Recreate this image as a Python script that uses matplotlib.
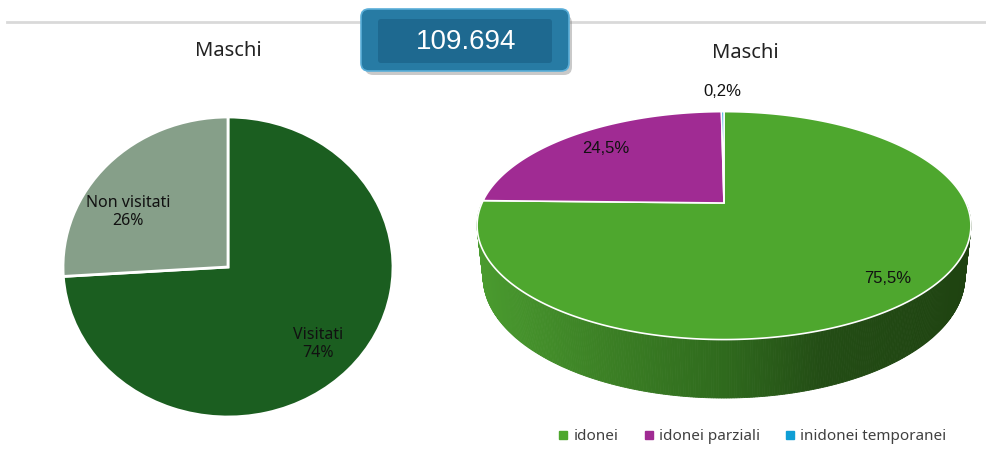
import numpy as np
import matplotlib
matplotlib.use("Agg")
import matplotlib.pyplot as plt
from matplotlib.patches import Polygon, FancyBboxPatch
from matplotlib.lines import Line2D
from matplotlib.colors import to_rgb

# data
left_labels = ["Visitati", "Non visitati"]
left_values = [74, 26]
left_colors = ["#1B5E20", "#869F89"]

right_labels = ["idonei", "idonei parziali", "inidonei temporanei"]
right_values = [75.5, 24.5, 0.2]
right_texts = ["75,5%", "24,5%", "0,2%"]
right_colors = ["#4EA72E", "#A02B93", "#0F9ED5"]

total_text = "109.694"
title = "Maschi"

W, H = 987, 458
fig = plt.figure(figsize=(W / 100, H / 100), dpi=100)
fig.patch.set_facecolor("white")

# overlay axes in pixel coordinates
ov = fig.add_axes([0, 0, 1, 1])
ov.set_xlim(0, W)
ov.set_ylim(H, 0)
ov.axis("off")

# top rule
ov.plot([7, W], [22, 22], color="#d9d9d9", lw=2, zorder=1)

# ---- left pie (flat, slightly stretched) ----
cx, cy, rx, ry = 228, 267, 165, 150
pad = 1.05
axl = fig.add_axes([(cx - rx * pad) / W, (H - cy - ry * pad) / H,
                    2 * rx * pad / W, 2 * ry * pad / H])
wedges, _ = axl.pie(left_values, colors=left_colors, startangle=90,
                    counterclock=False,
                    wedgeprops=dict(edgecolor="white", linewidth=2))
axl.set_aspect("auto")
axl.set_xlim(-pad, pad)
axl.set_ylim(-pad, pad)
axl.axis("off")
# best-fit style nudges (angle shift in degrees, radius)
nudges = [(0, 0.75), (12, 0.71)]
for w, lab, v, (da, r) in zip(wedges, left_labels, left_values, nudges):
    mid = np.deg2rad((w.theta1 + w.theta2) / 2 + da)
    axl.text(r * np.cos(mid), r * np.sin(mid), f"{lab}\n{v}%",
             ha="center", va="center", fontsize=11.5, color="#111111",
             family="Noto Sans", linespacing=1.2)

ov.text(cx, 51, title, ha="center", va="center", fontsize=14.5,
        color="#222222", family="Noto Sans")

# ---- right pie (3D, perspective) ----
alpha = np.deg2rad(26.9)
S, C = np.sin(alpha), np.cos(alpha)
D, K = 4.5, 1089
PX, PY = 724, 203
DEPTH = 0.239


def proj(theta, r=1.0, z=0.0):
    x = r * np.cos(theta)
    y = r * np.sin(theta)
    v = y * S + z * C
    w = D + y * C - z * S
    return PX + K * x / w, PY - K * v / w


# side wall with horizontal shading
stops = [(0.0, "#4A9B2F"), (0.25, "#3C8125"), (0.5, "#2F6A1D"),
         (0.7, "#234D15"), (1.0, "#1F4311")]
sx = [s[0] for s in stops]
srgb = np.array([to_rgb(s[1]) for s in stops])


def shade(t):
    return tuple(np.interp(t, sx, srgb[:, k]) for k in range(3))


th = np.deg2rad(np.linspace(180, 360, 361))
x_left = PX - 247
x_right = PX + 247
for i in range(len(th) - 1):
    a, b = th[i], th[i + 1]
    p = [proj(a), proj(b), proj(b, z=-DEPTH), proj(a, z=-DEPTH)]
    xm = (p[0][0] + p[1][0]) / 2
    t = (xm - x_left) / (x_right - x_left)
    col = shade(np.clip(t, 0, 1))
    ov.add_patch(Polygon(p, closed=True, facecolor=col, edgecolor=col,
                         lw=0.6, zorder=2))

# top face wedges, clockwise from 12 o'clock
fr = np.array(right_values) / sum(right_values)
start = np.pi / 2
mids = []
for f, col in zip(fr, right_colors):
    end = start - f * 2 * np.pi
    ts = np.linspace(start, end, max(3, int(f * 720)))
    pts = [proj(0, r=0)] + [proj(t) for t in ts]
    ov.add_patch(Polygon(pts, closed=True, facecolor=col, edgecolor="white",
                         lw=1.2, zorder=3, joinstyle="miter"))
    mids.append((start + end) / 2)
    start = end

label_r = [0.85, 0.77, 1.27]
for m, r, txt in zip(mids, label_r, right_texts):
    x, y = proj(m, r=r)
    ov.text(x, y, txt, ha="center", va="center", fontsize=12,
            color="#111111", family="Liberation Sans", zorder=5)

ov.text(745, 53, title, ha="center", va="center", fontsize=14.5,
        color="#222222", family="Noto Sans")

# legend
handles = [Line2D([], [], marker="s", ls="", color=c, markersize=5.5)
           for c in right_colors]
fig.legend(handles, right_labels, loc="center", ncol=3, frameon=False,
           bbox_to_anchor=(751 / W, 1 - 437 / H),
           handletextpad=0.15, columnspacing=1.5, handlelength=1.0,
           labelcolor="#404040", prop=dict(family="Noto Sans", size=11))

# value box
ov.add_patch(FancyBboxPatch((365, 15), 207, 60,
                            boxstyle="round,pad=0,rounding_size=8",
                            facecolor="#7a7a7a", edgecolor="none",
                            alpha=0.4, zorder=6))
ov.add_patch(FancyBboxPatch((361, 9), 208, 62,
                            boxstyle="round,pad=0,rounding_size=8",
                            facecolor="#277BA4", edgecolor="#5AAED8",
                            lw=1.2, zorder=7))
ov.add_patch(FancyBboxPatch((378, 19), 174, 44,
                            boxstyle="round,pad=0,rounding_size=3",
                            facecolor="#1E6990", edgecolor="none",
                            zorder=8))
ov.text(466, 42, total_text, ha="center", va="center", fontsize=20,
        color="white", family="Liberation Sans", zorder=9)

fig.savefig("out.png", dpi=100, facecolor="white")
